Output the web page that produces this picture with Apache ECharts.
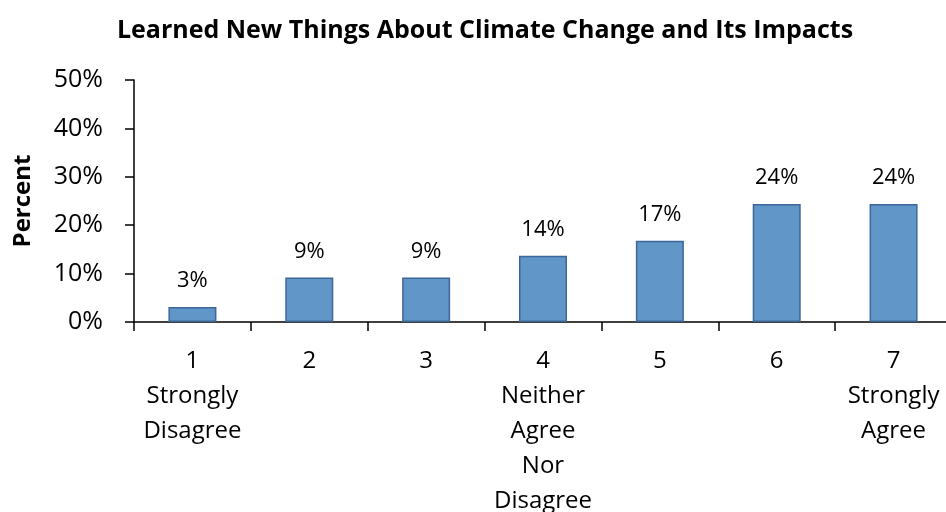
<!DOCTYPE html>
<html>
<head>
<meta charset="utf-8">
<script src="https://cdn.jsdelivr.net/npm/echarts@6/dist/echarts.min.js"></script>
<style>
  html, body { margin: 0; padding: 0; background: #fff; }
  #chart { width: 946px; height: 512px; }
</style>
</head>
<body>
<div id="chart"></div>
<script>
// scale points and their anchor words
const codes = ['1', '2', '3', '4', '5', '6', '7'];
const anchors = ['Strongly\nDisagree', '', '', 'Neither\nAgree\nNor\nDisagree', '', '', 'Strongly\nAgree'];
// percent of respondents
const percents = [3.1, 9.2, 9.2, 13.7, 16.8, 24.4, 24.4];
const yTicks = [0, 10, 20, 30, 40, 50];

const font = '"Open Sans", sans-serif';

const chart = echarts.init(document.getElementById('chart'));

let labels = codes.map(function (c, i) {
  return anchors[i] ? c + '\n' + anchors[i] : c;
});

const option = {
  animation: false,
  title: {
    text: 'Learned New Things About Climate Change and Its Impacts',
    left: 480,
    textAlign: 'center',
    top: 13,
    textStyle: {
      fontFamily: font,
      fontSize: 25,
      fontWeight: 'bold',
      color: '#000'
    }
  },
  grid: {
    left: 134,
    right: -6,
    top: 80,
    bottom: 190,
    containLabel: false,
    outerBoundsMode: 'none'
  },
  xAxis: {
    type: 'category',
    data: labels,
    axisLine: {
      lineStyle: { color: '#000', width: 1.5 }
    },
    axisTick: {
      show: true,
      length: 9,
      alignWithLabel: false,
      lineStyle: { color: '#000', width: 1.5 }
    },
    axisLabel: {
      interval: 0,
      margin: 22,
      color: '#000',
      fontFamily: font,
      fontSize: 24,
      lineHeight: 35
    }
  },
  yAxis: {
    type: 'value',
    min: yTicks[0],
    max: yTicks[yTicks.length - 1],
    interval: 10,
    name: 'Percent',
    nameLocation: 'middle',
    nameGap: 99,
    nameTextStyle: {
      fontFamily: font,
      fontSize: 24,
      fontWeight: 'bold',
      color: '#000'
    },
    axisLine: {
      show: true,
      lineStyle: { color: '#000', width: 1.5 }
    },
    axisTick: {
      show: true,
      length: 9,
      lineStyle: { color: '#000', width: 1.5 }
    },
    splitLine: { show: false },
    axisLabel: {
      margin: 31,
      color: '#000',
      fontFamily: font,
      fontSize: 25,
      formatter: '{value}%'
    }
  },
  series: [{
    type: 'bar',
    data: percents,
    barWidth: 48,
    itemStyle: {
      color: '#6096c8',
      borderColor: '#3c6797',
      borderWidth: 1.5
    },
    label: {
      show: true,
      position: 'top',
      distance: 15,
      color: '#000',
      fontFamily: font,
      fontSize: 22,
      formatter: function (p) {
        return Math.round(p.value) + '%';
      }
    }
  }]
};

chart.setOption(option);
</script>
</body>
</html>
